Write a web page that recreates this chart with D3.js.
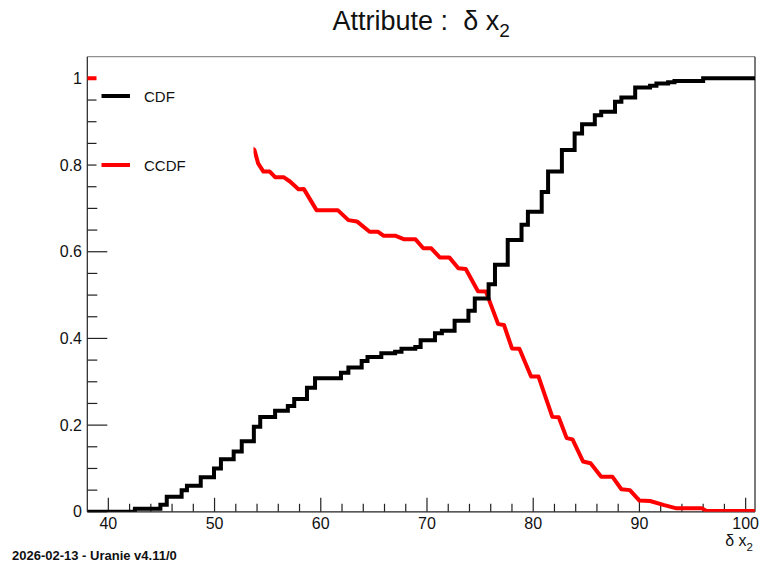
<!DOCTYPE html>
<html>
<head>
<meta charset="utf-8">
<script src="https://cdn.jsdelivr.net/npm/d3@7"></script>
<style>
  html, body { margin: 0; padding: 0; background: #fff; }
  svg { display: block; }
  text { font-family: "Liberation Sans", Arial, Helvetica, sans-serif; }
</style>
</head>
<body>
<svg id="chart" width="760" height="566"></svg>
<script>
// ---- data ----
const cdfX = [38.02, 42.5, 44.9, 45.5, 46.9, 47.4, 48.7, 49.95, 50.6, 51.8, 52.56, 53.7, 54.3, 55.7, 56.9, 57.5, 58.7, 59.46,
  61.9, 62.6, 63.85, 64.4, 65.7, 67.0, 67.6, 68.9, 69.4, 70.75, 71.4, 72.6, 73.9, 74.5, 75.8, 76.4, 77.6, 78.9, 79.5,
  80.8, 81.4, 82.7, 83.9, 84.6, 85.8, 86.4, 87.7, 88.3, 89.6, 91.0, 91.6, 92.7, 93.3, 96.0, 100.88];
const cdfY = [0, 0.007, 0.016, 0.035, 0.05, 0.06, 0.08, 0.10, 0.121, 0.139, 0.163, 0.196, 0.219, 0.233, 0.244, 0.26, 0.286, 0.308,
  0.321, 0.333, 0.348, 0.357, 0.366, 0.369, 0.376, 0.380, 0.396, 0.412, 0.418, 0.441, 0.464, 0.492, 0.525, 0.570, 0.627, 0.662, 0.692,
  0.738, 0.785, 0.835, 0.873, 0.894, 0.915, 0.923, 0.946, 0.956, 0.979, 0.983, 0.988, 0.991, 0.994, 1.0, 1.0];

const ccdfX = [38.02, 42.5, 45.5, 48.7, 51.8, 53.75, 54.1, 54.6, 55.2, 55.7, 56.5, 57.1, 57.9, 58.4, 59.6, 61.6, 62.6, 63.4,
  64.6, 65.4, 65.9, 67.0, 67.8, 68.9, 69.65, 70.4, 71.2, 72.1, 72.95, 73.65, 74.8, 75.55, 76.7, 77.25, 78.0, 78.7,
  79.8, 80.5, 81.8, 82.4, 83.15, 83.7, 84.7, 85.4, 86.4, 87.45, 88.3, 89.1, 90.0, 91.0, 92.25, 93.5, 95.9, 96.3, 100.88];
const ccdfY = [1.0, 1.0, 0.97, 0.93, 0.87, 0.835, 0.804, 0.785, 0.785, 0.772, 0.772, 0.762, 0.744, 0.745, 0.696, 0.696, 0.673, 0.670,
  0.646, 0.646, 0.637, 0.637, 0.629, 0.629, 0.608, 0.608, 0.587, 0.587, 0.562, 0.560, 0.509, 0.508, 0.433, 0.431, 0.377, 0.376,
  0.312, 0.312, 0.219, 0.218, 0.170, 0.167, 0.116, 0.112, 0.081, 0.081, 0.052, 0.050, 0.026, 0.025, 0.016, 0.008, 0.008, 0.002, 0.002];

const xMajorTicks = [40, 50, 60, 70, 80, 90, 100];
const yMajorTicks = [0, 0.2, 0.4, 0.6, 0.8, 1];
const yTickLabels = ["0", "0.2", "0.4", "0.6", "0.8", "1"];
const seriesNames = ["CDF", "CCDF"];
const seriesColors = ["#000000", "#ff0000"];
const xRange = [38.02, 100.88];
const yRange = [0, 1.05];

// ---- layout ----
const L = 87.3, R = 755, T = 56.7, B = 511.8;
const svg = d3.select("#chart");
const x = d3.scaleLinear().domain(xRange).range([L, R]);
const y = d3.scaleLinear().domain(yRange).range([B, T]);

// frame
svg.append("line").attr("x1", L).attr("x2", R).attr("y1", T).attr("y2", T).attr("stroke", "#777").attr("stroke-width", 1);
svg.append("line").attr("x1", R).attr("x2", R).attr("y1", T).attr("y2", B).attr("stroke", "#222").attr("stroke-width", 1.2);

// x axis ticks
const xMinor = d3.range(40, 101, 2).filter(v => v % 10 !== 0);
const gx = svg.append("g");
gx.selectAll("line.maj").data(xMajorTicks).join("line")
  .attr("x1", d => x(d)).attr("x2", d => x(d)).attr("y1", B).attr("y2", B - 14)
  .attr("stroke", "#222").attr("stroke-width", 1.2);
gx.selectAll("line.min").data(xMinor).join("line")
  .attr("x1", d => x(d)).attr("x2", d => x(d)).attr("y1", B).attr("y2", B - 8)
  .attr("stroke", "#222").attr("stroke-width", 1.2);
gx.selectAll("text").data(xMajorTicks).join("text")
  .attr("x", d => x(d)).attr("y", 528.5).attr("text-anchor", "middle")
  .attr("font-size", 16).attr("fill", "#111").text(d => d);

// y axis ticks
const yMinor = d3.range(0, 21).map(i => i * 0.05).filter((v, i) => i % 4 !== 0);
const gy = svg.append("g");
gy.selectAll("line.maj").data(yMajorTicks).join("line")
  .attr("x1", L).attr("x2", L + 20).attr("y1", d => y(d)).attr("y2", d => y(d))
  .attr("stroke", "#222").attr("stroke-width", 1.2);
gy.selectAll("line.min").data(yMinor).join("line")
  .attr("x1", L).attr("x2", L + 10).attr("y1", d => y(d)).attr("y2", d => y(d))
  .attr("stroke", "#222").attr("stroke-width", 1.2);
gy.selectAll("text").data(yMajorTicks).join("text")
  .attr("x", 82).attr("y", d => y(d) + 5.5).attr("text-anchor", "end")
  .attr("font-size", 16).attr("fill", "#111").text((d, i) => yTickLabels[i]);

// axis lines
svg.append("line").attr("x1", L).attr("x2", R).attr("y1", B).attr("y2", B).attr("stroke", "#222").attr("stroke-width", 1.2);
svg.append("line").attr("x1", L).attr("x2", L).attr("y1", T).attr("y2", B).attr("stroke", "#222").attr("stroke-width", 1.2);

// curves
const clip = svg.append("clipPath").attr("id", "clipFrame").append("rect")
  .attr("x", L).attr("y", T - 3).attr("width", R - L).attr("height", B - T + 3);
const cdfPts = cdfX.map((v, i) => [v, cdfY[i]]);
const ccdfPts = ccdfX.map((v, i) => [v, ccdfY[i]]);
svg.append("path").datum(ccdfPts)
  .attr("d", d3.line().x(d => x(d[0])).y(d => y(d[1])))
  .attr("fill", "none").attr("stroke", seriesColors[1]).attr("stroke-width", 4)
  .attr("stroke-linejoin", "round").attr("clip-path", "url(#clipFrame)");
svg.append("path").datum(cdfPts)
  .attr("d", d3.line().curve(d3.curveStepAfter).x(d => x(d[0])).y(d => y(d[1])))
  .attr("fill", "none").attr("stroke", seriesColors[0]).attr("stroke-width", 4)
  .attr("stroke-linejoin", "miter").attr("clip-path", "url(#clipFrame)");

// legend (white box, no border)
const lg = svg.append("g");
lg.append("rect").attr("x", 96.5).attr("y", 60).attr("width", 157).attr("height", 140).attr("fill", "#fff");
const legendY = [96, 165];
seriesNames.forEach((name, i) => {
  lg.append("line").attr("x1", 101.5).attr("x2", 130).attr("y1", legendY[i]).attr("y2", legendY[i])
    .attr("stroke", seriesColors[i]).attr("stroke-width", 4);
  lg.append("text").attr("x", 144).attr("y", legendY[i] + 5.5).attr("font-size", 15).attr("fill", "#111").text(name);
});

// title
const title = svg.append("text").attr("x", (L + R) / 2).attr("y", 30).attr("text-anchor", "middle")
  .attr("font-size", 27).attr("fill", "#111");
title.append("tspan").text("Attribute :");
title.append("tspan").attr("dx", 15).text("δ x");
title.append("tspan").attr("font-size", 19).attr("dy", 7).text("2");

// x axis title
const xt = svg.append("text").attr("x", 753).attr("y", 546).attr("text-anchor", "end")
  .attr("font-size", 16).attr("fill", "#111");
xt.append("tspan").text("δ x");
xt.append("tspan").attr("font-size", 11.5).attr("dy", 5).text("2");

// footer
svg.append("text").attr("x", 12).attr("y", 560).attr("font-size", 13).attr("font-weight", "bold")
  .attr("fill", "#111").text("2026-02-13 - Uranie v4.11/0");
</script>
</body>
</html>
